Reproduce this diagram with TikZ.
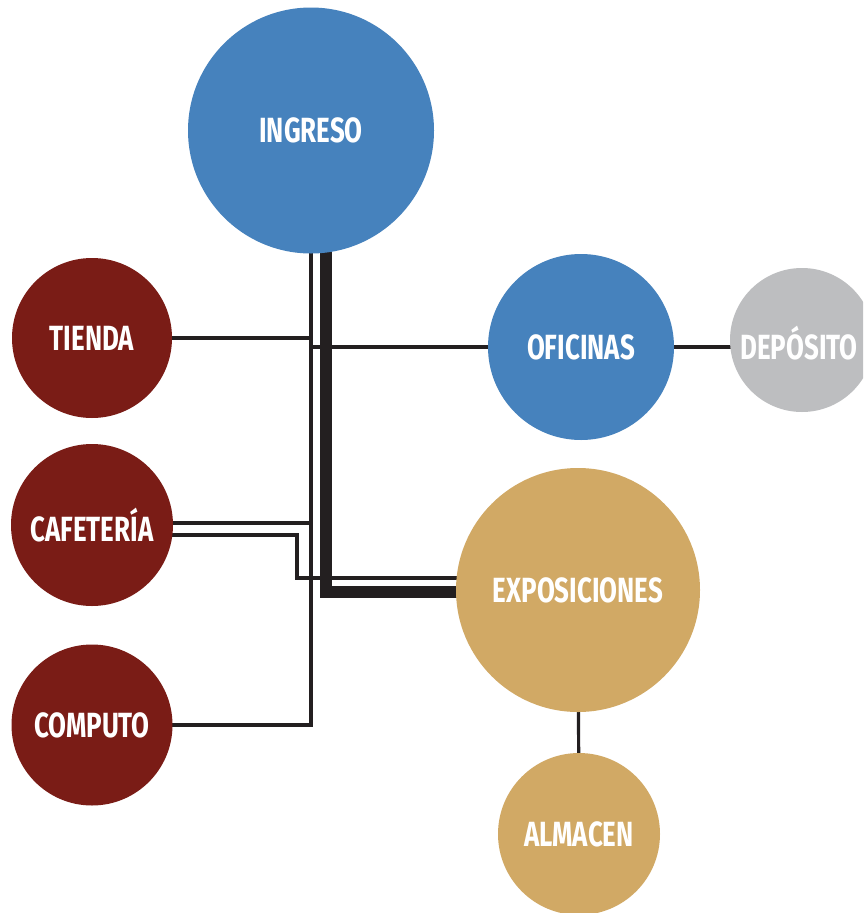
\documentclass[tikz,border=0pt]{standalone}
\usepackage{fontspec}
\newfontfamily\labfont[FakeStretch=0.74]{Fira Sans}
\usetikzlibrary{backgrounds,calc}
\definecolor{cblue}{RGB}{70,130,189}
\definecolor{cred}{RGB}{122,28,22}
\definecolor{cgold}{RGB}{209,169,101}
\definecolor{cgray}{RGB}{189,190,192}
\definecolor{cline}{RGB}{35,31,32}
\tikzset{
  bubble/.style={circle, inner sep=0pt, text=white, font=\labfont\bfseries\fontsize{35}{35}\selectfont},
  thinline/.style={draw=cline, line width=3.2pt, line join=miter},
  thickline/.style={draw=cline, line width=12pt, line join=miter},
}
\begin{document}
\begin{tikzpicture}[x=1pt,y=-1pt]
\useasboundingbox (0,0) rectangle (863,913);
\clip (0,0) rectangle (863,913);
\node[bubble, fill=cblue, minimum size=246pt] (ingreso) at (311,130.5) {INGRESO};
\node[bubble, fill=cred, minimum size=160pt] (tienda) at (92,338) {TIENDA};
\node[bubble, fill=cred, minimum size=162pt] (cafe) at (92,525) {CAFETERÍA};
\node[bubble, fill=cred, minimum size=161pt] (computo) at (92,725) {COMPUTO};
\node[bubble, fill=cblue, minimum size=186pt] (oficinas) at (581,347) {OFICINAS};
\node[bubble, fill=cgray, minimum size=144pt] (deposito) at (802,340) {};
\node[text=white, font=\labfont\bfseries\fontsize{35}{35}\selectfont] (depositolab) at (799,343) {DEPÓSITO};
\node[bubble, fill=cgold, minimum size=244pt] (expo) at (578,590) {EXPOSICIONES};
\node[bubble, fill=cgold, minimum size=162pt] (almacen) at (579,834) {ALMACEN};
\coordinate (tk) at (326,0);
\coordinate (cup) at ($(cafe.center)+(0,-2)$);
\coordinate (clow) at ($(cafe.center)+(0,10)$);
\coordinate (cj) at (297,578);
\begin{scope}[on background layer]
  \fill[white] (0,0) rectangle (863,913);
  \draw[thickline] (ingreso.center -| tk) |- ($(expo.center)+(0,1.5)$);
  \draw[thinline] (ingreso.center) |- (computo.center);
  \draw[thinline] (tienda.center) -- (tienda.center -| ingreso.center);
  \draw[thinline] (oficinas.center -| ingreso.center) -- (oficinas.center);
  \draw[thinline] (cup) -- (cup -| ingreso.center);
  \draw[thinline] (clow) -| (cj) -- (cj -| expo.center);
  \draw[thinline] (oficinas.center) -- (oficinas.center -| deposito.center);
  \draw[thinline] (expo.center) -- (almacen.center);
\end{scope}
\end{tikzpicture}
\end{document}
